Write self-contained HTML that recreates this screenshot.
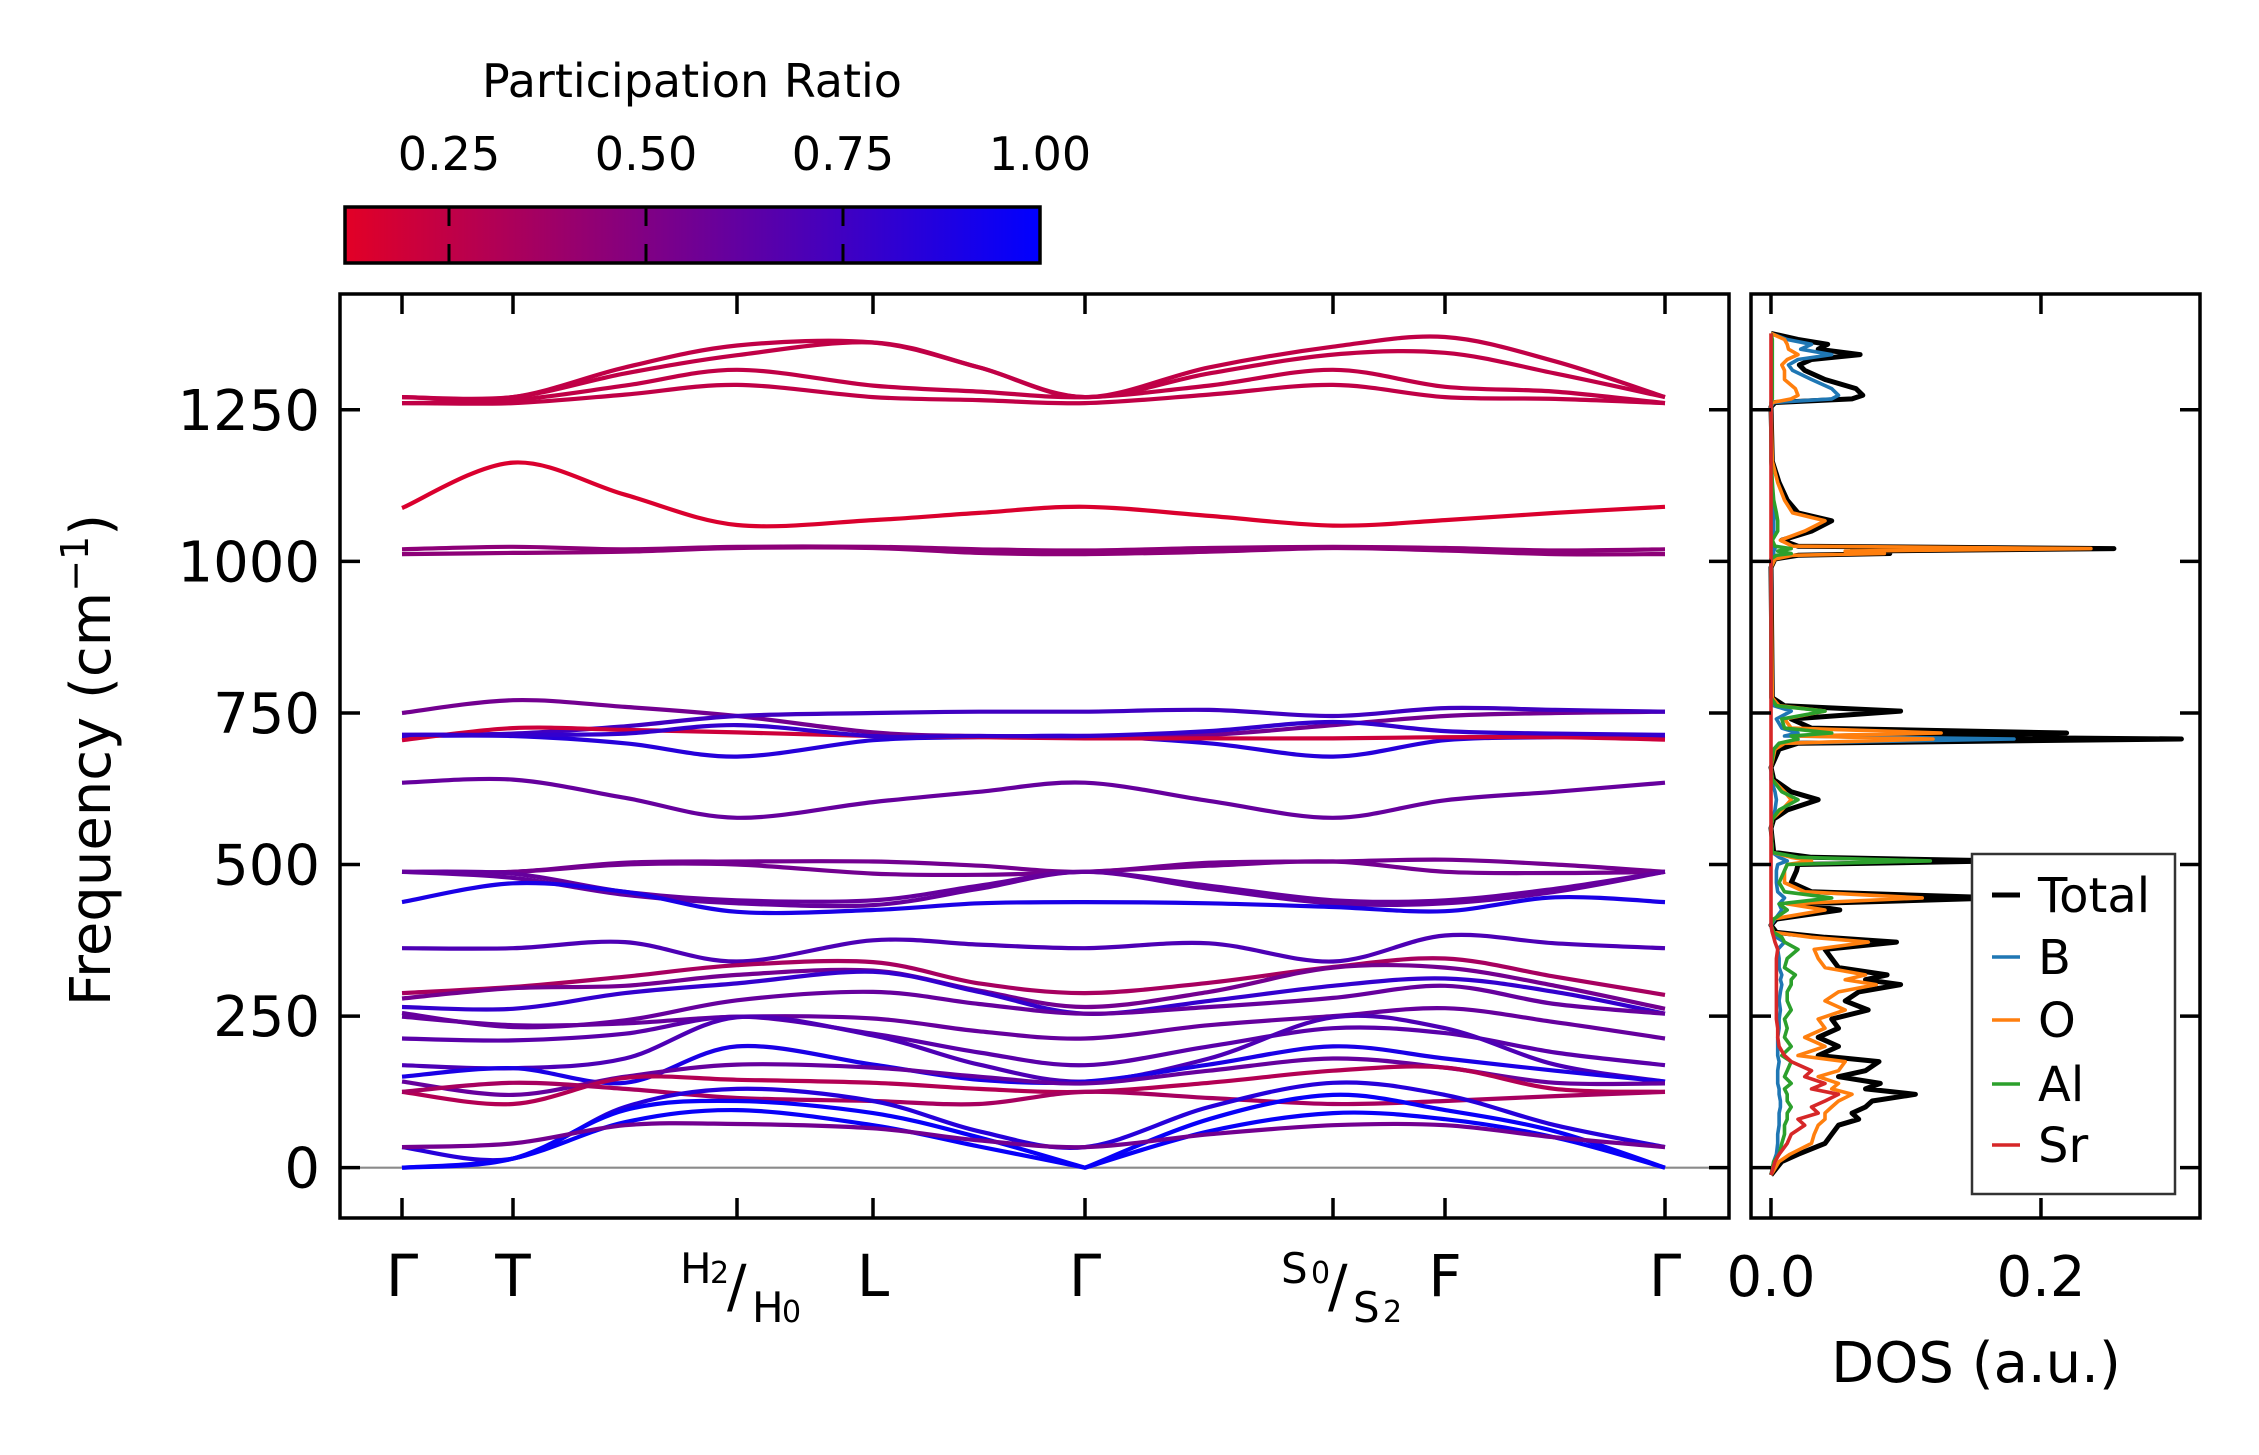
<!DOCTYPE html>
<html><head><meta charset="utf-8"><style>
html,body{margin:0;padding:0;background:#fff;}
svg{display:block;font-family:"DejaVu Sans","Liberation Sans",sans-serif;}
</style></head><body>
<svg id="chart" width="2259" height="1455" viewBox="0 0 2259 1455" xmlns="http://www.w3.org/2000/svg">
<defs>
<linearGradient id="cbgrad" x1="0" x2="1" y1="0" y2="0">
<stop offset="0" stop-color="rgb(226,0,38)"/><stop offset="1" stop-color="rgb(0,0,255)"/>
</linearGradient>
<clipPath id="mainClip"><rect x="340" y="294" width="1389" height="924"/></clipPath>
<clipPath id="dosClip"><rect x="1751" y="294" width="449" height="924"/></clipPath>
</defs>
<rect width="2259" height="1455" fill="#fff"/>
<g id="colorbar">
<text x="692" y="97" font-size="46" text-anchor="middle">Participation Ratio</text>
<rect x="345" y="207" width="695" height="56" fill="url(#cbgrad)" stroke="#000" stroke-width="3.5"/>
</g>
<g id="bands" clip-path="url(#mainClip)"></g>
<g id="dos" clip-path="url(#dosClip)"></g>
<g id="axes"></g>
<text transform="translate(110,760) rotate(-90)" font-size="56" text-anchor="middle">Frequency (cm<tspan dy="-22" font-size="38">−1</tspan><tspan dy="22">)</tspan></text>
<text x="1976" y="1382" font-size="56" text-anchor="middle">DOS (a.u.)</text>
<g id="legend">
<rect x="1972" y="854" width="203" height="340" fill="#fff" stroke="#333" stroke-width="2.5"/>
</g>
</svg>
<script>
// ---- band structure data ----
const kLabels = ["Γ","T","H","L","Γ","S","F","Γ"];
const kDist = [0,111,223,335,471,577,683,807,931,1043,1153,1263];
const kTickDist = [0,111,335,471,683,931,1043,1263];
const yTicks = [0,250,500,750,1000,1250];
const cbTicks = [0.25,0.50,0.75,1.00];
const bandFreqs = [
[1271,1271,1320,1356,1361,1320,1271,1320,1354,1370,1330,1271],
[1271,1271,1310,1340,1361,1320,1271,1310,1341,1344,1310,1271],
[1261,1266,1290,1316,1290,1280,1271,1290,1316,1288,1280,1261],
[1261,1261,1275,1291,1271,1266,1261,1275,1291,1271,1268,1261],
[1088,1163,1110,1060,1068,1080,1090,1075,1059,1068,1080,1090],
[1020,1024,1020,1024,1024,1020,1018,1022,1024,1022,1018,1020],
[1012,1014,1016,1022,1022,1014,1012,1016,1022,1018,1012,1012],
[750,771,760,745,718,712,712,714,730,745,750,752],
[714,716,728,745,750,752,752,755,745,758,755,752],
[712,712,700,678,705,710,712,700,678,705,710,712],
[705,725,722,718,712,710,708,708,708,710,710,706],
[714,714,716,730,712,712,712,720,735,720,716,714],
[635,640,610,577,603,620,635,605,577,606,620,635],
[488,488,503,505,505,498,488,503,505,508,500,488],
[488,488,500,500,485,483,488,498,505,488,486,488],
[488,485,455,441,441,465,488,465,441,441,460,488],
[488,478,450,436,433,460,488,460,436,436,455,488],
[438,469,455,422,425,436,438,436,430,423,446,438],
[362,362,372,340,375,368,362,370,340,383,370,362],
[288,298,315,334,339,304,288,305,331,345,315,285],
[279,296,300,318,325,292,265,290,330,330,300,262],
[265,262,288,304,323,290,254,275,300,312,290,254],
[255,232,243,276,290,270,254,265,280,300,270,254],
[249,235,238,249,246,225,213,235,250,263,240,213],
[213,210,221,249,221,190,169,200,230,222,190,169],
[169,164,180,248,218,170,142,180,248,230,170,142],
[150,164,140,200,170,145,142,170,200,180,160,142],
[142,120,150,170,165,150,139,160,180,165,140,139],
[125,105,148,145,140,130,125,140,160,165,130,125],
[125,140,130,115,110,105,125,115,105,110,118,125],
[34,15,100,130,110,60,34,100,140,120,70,34],
[0,15,95,110,90,50,0,80,120,95,60,0],
[0,15,75,95,70,35,0,60,90,80,50,0],
[34,40,70,72,65,45,34,55,70,70,50,34]
];
const bandPR = [0.25,0.25,0.25,0.25,0.15,0.45,0.45,0.55,0.75,0.85,0.2,0.8,0.6,0.55,0.55,0.6,0.6,0.9,0.7,0.35,0.55,0.8,0.6,0.6,0.65,0.7,0.9,0.6,0.3,0.35,0.85,0.97,0.97,0.55];
// ---- DOS data ----
const dosFreq = [-12,10,22,40,55,70,80,90,100,110, 121,130,139,150,160,175,185,200,215,230, 245,260,275,290,302,310,318,330,345,360, 372,380,388,400,410,425,435,445,455,470, 490,500,506,512,520,560,575,590,607,620, 640,660,690,700,707,712,717,725,740,753, 762,775,990,1004,1010,1013,1017,1021,1025,1035, 1050,1067,1080,1101,1130,1165,1255,1262,1268,1274, 1285,1300,1315,1324,1333,1341,1350,1358,1366,1376];
const dosTotal = [0,.008,.02,.04,.045,.05,.065,.06,.07,.075, .107,.07,.081,.05,.07,.08,.035,.05,.035,.05, .045,.072,.055,.065,.096,.07,.086,.05,.045,.04, .093,.04,.004,0,.004,.051,.02,.17,.03,.015, .019,.02,.17,.03,.002,0,.002,.012,.035,.015, .002,0,.006,.02,.304,.05,.219,.03,.015,.096, .01,.001,0,.003,.02,.088,.06,.254,.02,.008, .03,.045,.02,.012,.006,.001,0,.003,.06,.068, .063,.04,.025,.021,.03,.066,.035,.042,.02,0];
const dosB = [0,.002,.004,.005,.005,.006,.006,.006,.007,.007, .006,.006,.005,.005,.005,.006,.005,.005,.005,.006, .006,.007,.006,.007,.008,.007,.008,.006,.006,.005, .01,.004,.001,0,.003,.008,.006,.01,.005,.004, .004,.005,.012,.006,.001,0,.001,.003,.004,.003, 0,0,.002,.006,.18,.01,.02,.008,.004,.015, .002,0,0,0,.001,.002,.002,.003,.001,.001, .002,.002,.002,.001,.001,0,0,.002,.045,.05, .045,.03,.016,.013,.02,.045,.022,.03,.012,0];
const dosO = [0,.006,.014,.03,.032,.035,.04,.04,.045,.05, .06,.045,.05,.035,.05,.055,.02,.04,.025,.04, .035,.055,.04,.05,.078,.055,.07,.04,.035,.032, .072,.03,.002,0,.001,.04,.012,.112,.025,.01, .01,.012,.03,.015,.001,0,.001,.008,.015,.01, .001,0,.003,.01,.12,.02,.126,.015,.01,.04, .006,.001,0,.003,.016,.084,.055,.237,.016,.007, .025,.04,.016,.01,.005,.001,0,.001,.015,.02, .018,.01,.01,.008,.012,.02,.013,.012,.01,0];
const dosAl = [0,.002,.006,.008,.01,.01,.012,.012,.015,.012, .012,.01,.015,.01,.012,.015,.008,.015,.01,.012, .01,.015,.012,.012,.015,.015,.018,.01,.012,.02, .01,.008,.002,0,.002,.012,.006,.045,.01,.006, .01,.012,.118,.02,.001,0,.001,.006,.02,.008, .001,0,.002,.006,.02,.015,.045,.01,.008,.04, .004,0,0,0,.004,.015,.005,.015,.003,.001, .005,.005,.004,.002,.001,0,0,0,.001,.001, .001,.001,.001,.001,.001,.001,.001,.001,.001,0];
const dosSr = [0,.003,.006,.012,.015,.025,.02,.035,.03,.04, .05,.03,.04,.025,.03,.015,.01,.006,.005,.005, .004,.004,.004,.004,.004,.004,.004,.004,.004,.005, .003,.002,.001,0,0,0,0,0,0,0, 0,0,0,0,0,0,0,0,0,0, 0,0,0,0,0,0,0,0,0,0, 0,0,0,0,0,0,0,0,0,0, 0,0,0,0,0,0,0,0,0,0, 0,0,0,0,0,0,0,0,0,0];
const dosTicks = [0.0,0.2];
const legendNames = ["Total","B","O","Al","Sr"];

const NS="http://www.w3.org/2000/svg";
function mk(tag, attrs, parent){const e=document.createElementNS(NS,tag);for(const k in attrs)e.setAttribute(k,attrs[k]);if(parent)parent.appendChild(e);return e;}
const X0=340,X1=1729,Y0=294,Y1=1218;
const kMin=-62,kMax=1327,fMin=-83,fMax=1441;
function xk(d){return X0+(d-kMin)/(kMax-kMin)*(X1-X0);}
function yf(f){return Y1-(f-fMin)/(fMax-fMin)*(Y1-Y0);}
const DX0=1751,DX1=2200,dMin=-0.0148,dMax=0.3178;
function xd(v){return DX0+(v-dMin)/(dMax-dMin)*(DX1-DX0);}
const prMin=0.118,prMax=1.0;
function cbx(p){return 345+(p-prMin)/(prMax-prMin)*695;}
function prColor(p){let t=(p-prMin)/(prMax-prMin);t=Math.max(0,Math.min(1,t));return `rgb(${Math.round(226*(1-t))},0,${Math.round(38+(255-38)*t)})`;}

const gB=document.getElementById('bands');
mk('line',{x1:X0,x2:X1,y1:yf(0),y2:yf(0),stroke:'#8a8a8a','stroke-width':2.2},gB);
// tangent at node i; acoustic zero nodes get one-sided (cusp) tangents
function tang(xs,ys,fr,i,side){const n=xs.length;
 if(fr[i]===0){ if(side>0&&i<n-1) return [(xs[i+1]-xs[i])/2,(ys[i+1]-ys[i])/2];
   if(side<0&&i>0) return [(xs[i]-xs[i-1])/2,(ys[i]-ys[i-1])/2]; }
 const a=Math.max(0,i-1),b=Math.min(n-1,i+1);return [(xs[b]-xs[a])/2,(ys[b]-ys[a])/2];}
function smooth(xs,ys,fr){let d=`M${xs[0].toFixed(1)},${ys[0].toFixed(1)}`;const n=xs.length;
 for(let i=0;i<n-1;i++){const t1=tang(xs,ys,fr,i,1),t2=tang(xs,ys,fr,i+1,-1);
 const c1x=xs[i]+t1[0]/3,c1y=ys[i]+t1[1]/3,c2x=xs[i+1]-t2[0]/3,c2y=ys[i+1]-t2[1]/3;
 d+=` C${c1x.toFixed(1)},${c1y.toFixed(1)} ${c2x.toFixed(1)},${c2y.toFixed(1)} ${xs[i+1].toFixed(1)},${ys[i+1].toFixed(1)}`;}
 return d;}
bandFreqs.forEach((fr,i)=>{
 const p=mk('path',{d:smooth(kDist.map(xk),fr.map(yf),fr),fill:'none',stroke:prColor(bandPR[i]),'stroke-width':4.2,'stroke-linejoin':'round'},gB);
 
 
});

const gD=document.getElementById('dos');
const dosSeries=[dosTotal,dosB,dosO,dosAl,dosSr];
const dosColors=['#000000','#1f77b4','#ff7f0e','#2ca02c','#d62728'];
const dosWidths=[5,3.6,3.6,3.6,3.6];
dosSeries.forEach((s,i)=>{
 const pts=s.map((v,j)=>`${xd(v).toFixed(1)},${yf(dosFreq[j]).toFixed(1)}`).join(' ');
 const pl=mk('polyline',{points:pts,fill:'none',stroke:dosColors[i],'stroke-width':dosWidths[i],'stroke-linejoin':'round'},gD);
 
 
});

const gA=document.getElementById('axes');
mk('rect',{x:X0,y:Y0,width:X1-X0,height:Y1-Y0,fill:'none',stroke:'#000','stroke-width':3.5},gA);
mk('rect',{x:DX0,y:Y0,width:DX1-DX0,height:Y1-Y0,fill:'none',stroke:'#000','stroke-width':3.5},gA);
const TL=20;
kTickDist.forEach(d=>{const x=xk(d);
 mk('line',{x1:x,x2:x,y1:Y0,y2:Y0+TL,stroke:'#000','stroke-width':3.5},gA);
 mk('line',{x1:x,x2:x,y1:Y1,y2:Y1-TL,stroke:'#000','stroke-width':3.5},gA);});
yTicks.forEach(f=>{const y=yf(f);
 [[X0,X0+TL],[X1,X1-TL],[DX0,DX0+TL],[DX1,DX1-TL]].forEach(a=>mk('line',{x1:a[0],x2:a[1],y1:y,y2:y,stroke:'#000','stroke-width':3.5},gA));
 const t=mk('text',{x:X0-20,y:y+20,'font-size':56,'text-anchor':'end'},gA);t.textContent=String(f);
 
 
});
dosTicks.forEach(v=>{const x=xd(v);
 mk('line',{x1:x,x2:x,y1:Y0,y2:Y0+TL,stroke:'#000','stroke-width':3.5},gA);
 mk('line',{x1:x,x2:x,y1:Y1,y2:Y1-TL,stroke:'#000','stroke-width':3.5},gA);
 const t=mk('text',{x:x,y:1296,'font-size':56,'text-anchor':'middle'},gA);t.textContent=v.toFixed(1);
 
 
});
const simple=[[0,"Γ"],[1,"T"],[3,"L"],[4,"Γ"],[6,"F"],[7,"Γ"]];
simple.forEach(([i,l])=>{const t=mk('text',{x:xk(kTickDist[i]),y:1296,'font-size':58,'text-anchor':'middle'},gA);t.textContent=l;
 
 
});
function combo(cx,a,as,b,bs){const g=mk('g',{},gA);
 
 
 const x=cx-62;
 const t1=mk('text',{x:x,y:1283,'font-size':42},g);t1.textContent=a;
 const s1=mk('text',{x:x+30,y:1283,'font-size':30},g);s1.textContent=as;
 const sl=mk('text',{x:x+47,y:1306,'font-size':58},g);sl.textContent="/";
 const t2=mk('text',{x:x+72,y:1322,'font-size':42},g);t2.textContent=b;
 const s2=mk('text',{x:x+102,y:1322,'font-size':30},g);s2.textContent=bs;}
combo(xk(kTickDist[2])+5,"H","2","H","0");
combo(xk(kTickDist[5])+10,"S","0","S","2");

const gC=document.getElementById('colorbar');
cbTicks.forEach(p=>{const x=cbx(p);
 if(p<prMax){mk('line',{x1:x,x2:x,y1:207,y2:226,stroke:'#000','stroke-width':3},gC);
 mk('line',{x1:x,x2:x,y1:244,y2:263,stroke:'#000','stroke-width':3},gC);}
 const t=mk('text',{x:x,y:170,'font-size':46,'text-anchor':'middle'},gC);t.textContent=p.toFixed(2);
 
 
});

const gL=document.getElementById('legend');
const legY=[895,957,1020,1084,1145];
legendNames.forEach((n,i)=>{
 const ln=mk('line',{x1:1992,x2:2020,y1:legY[i],y2:legY[i],stroke:dosColors[i],'stroke-width':i==0?5:3.6},gL);
 
 
 const t=mk('text',{x:2038,y:legY[i]+17,'font-size':48},gL);t.textContent=n;
 
 
});
</script>
</body></html>
